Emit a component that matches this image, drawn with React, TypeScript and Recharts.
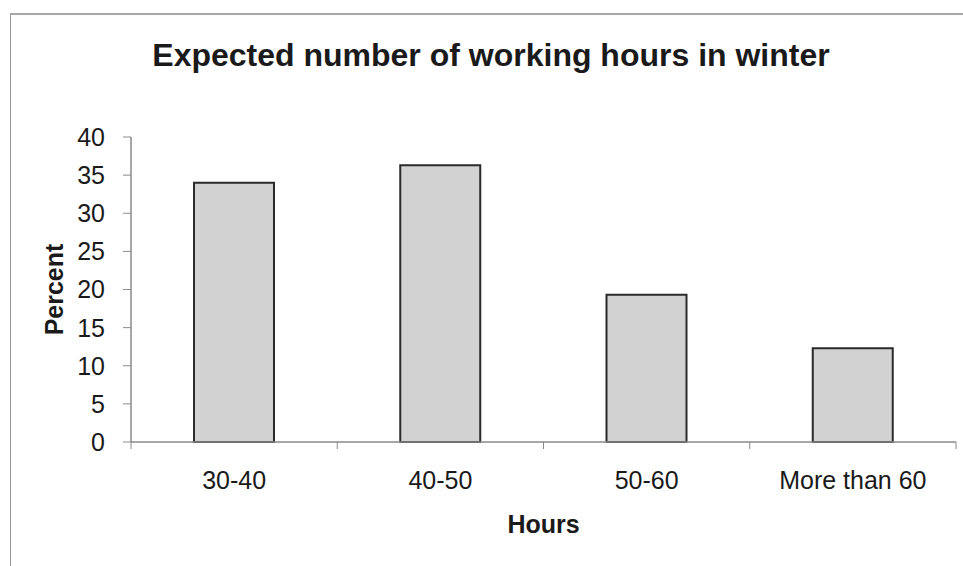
import React from 'react'
import { BarChart, Bar, XAxis, YAxis } from 'recharts'

// values
const categories = ['30-40', '40-50', '50-60', 'More than 60']
const percents = [34.0, 36.3, 19.3, 12.3]
const yTicks = [0, 5, 10, 15, 20, 25, 30, 35, 40]

const data = categories.map((hours, i) => ({ hours, percent: percents[i] }))

const FONT = '"Liberation Sans", Arial, sans-serif'
const AXIS_GREY = '#8a8a8a'
const INK = '#1a1a1a'

// Excel-style category ticks: marks sit on the band edges, labels in the middle
function HoursTick(props: any) {
  const { x, y, payload, index, visibleTicksCount } = props
  const half = payload?.offset ?? 0
  const last = index === (visibleTicksCount ?? categories.length) - 1
  return (
    <g>
      <line x1={x - half} y1={y} x2={x - half} y2={y + 7} stroke={AXIS_GREY} strokeWidth={1} />
      {last && <line x1={x + half} y1={y} x2={x + half} y2={y + 7} stroke={AXIS_GREY} strokeWidth={1} />}
      <text x={x} y={y + 47} textAnchor="middle" fontSize={25} fontFamily={FONT} fill={INK}>
        {payload.value}
      </text>
    </g>
  )
}

function PercentLabel({ viewBox }: any) {
  const cx = viewBox.x + 32
  const cy = viewBox.y + viewBox.height / 2
  return (
    <text x={cx} y={cy} transform={`rotate(-90, ${cx}, ${cy})`} textAnchor="middle"
      fontSize={25} fontWeight="bold" fontFamily={FONT} fill={INK}>
      Percent
    </text>
  )
}

function HoursLabel({ viewBox }: any) {
  return (
    <text x={viewBox.x + viewBox.width / 2} y={viewBox.y + 91} textAnchor="middle"
      fontSize={25} fontWeight="bold" fontFamily={FONT} fill={INK}>
      Hours
    </text>
  )
}

export default function App() {
  return (
    <div style={{ position: 'absolute', left: 0, top: 0, width: 963, height: 566, background: '#fff', fontFamily: FONT }}>
      {/* scanned frame edges */}
      <div style={{ position: 'absolute', left: 10, top: 13, width: 953, height: 553, borderLeft: '1px solid #9a9a9a', borderTop: '2px solid #a8a8a8' }} />
      <div style={{ position: 'absolute', left: 0, top: 39, width: 982, textAlign: 'center', fontSize: 32, lineHeight: '32px', fontWeight: 'bold', color: INK }}>
        Expected number of working hours in winter
      </div>
      <div style={{ position: 'absolute', left: 0, top: 0 }}>
        <BarChart width={963} height={566} data={data} margin={{ top: 137, right: 7, bottom: 29, left: 31 }}>
          <XAxis
            dataKey="hours"
            height={95}
            axisLine={{ stroke: AXIS_GREY, strokeWidth: 1.5 }}
            tickLine={false}
            tickSize={0}
            tickMargin={0}
            interval={0}
            tick={<HoursTick />}
            label={<HoursLabel />}
          />
          <YAxis
            width={100}
            domain={[0, 40]}
            ticks={yTicks}
            interval={0}
            axisLine={{ stroke: AXIS_GREY, strokeWidth: 1.5 }}
            tickLine={{ stroke: AXIS_GREY }}
            tickSize={8}
            tickMargin={18}
            tick={{ fontSize: 25, fontFamily: FONT, fill: INK }}
            label={<PercentLabel />}
          />
          <Bar dataKey="percent" barSize={80} fill="#d2d2d2" stroke="#2a2a2a" strokeWidth={2} isAnimationActive={false} />
        </BarChart>
      </div>
    </div>
  )
}
